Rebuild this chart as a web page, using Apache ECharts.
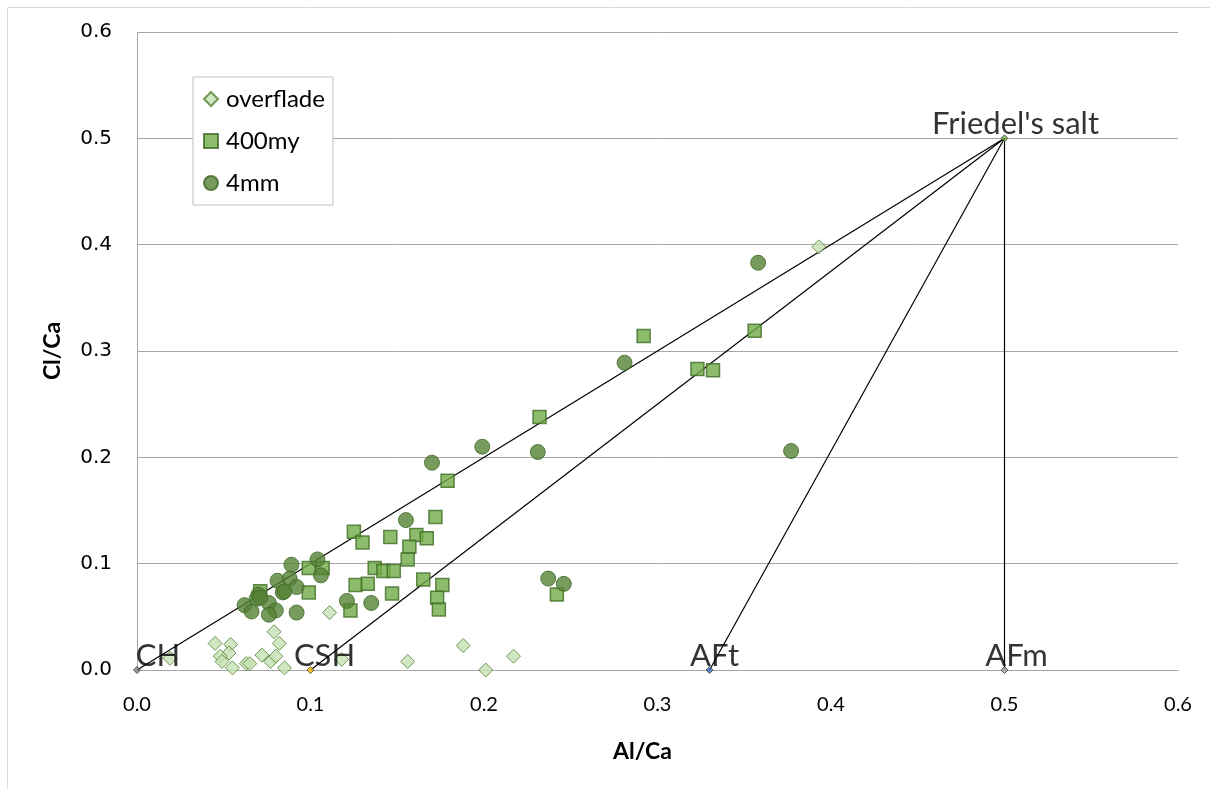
<!DOCTYPE html>
<html>
<head>
<meta charset="utf-8">
<script src="https://cdn.jsdelivr.net/npm/echarts@6/dist/echarts.min.js"></script>
<style>
  html, body { margin: 0; padding: 0; background: #fff; }
  #chart { width: 1210px; height: 789px; }
</style>
</head>
<body>
<div id="chart"></div>
<script>
// axis ticks
const xTicks = [0, 0.1, 0.2, 0.3, 0.4, 0.5, 0.6];
const yTicks = [0, 0.1, 0.2, 0.3, 0.4, 0.5, 0.6];

// overflade (diamonds)
const overX = [0.019, 0.045, 0.054, 0.053, 0.048, 0.049, 0.055, 0.063, 0.065, 0.072, 0.077,
               0.080, 0.085, 0.079, 0.082, 0.111, 0.118, 0.156, 0.188, 0.201, 0.217, 0.393];
const overY = [0.011, 0.025, 0.024, 0.016, 0.013, 0.008, 0.002, 0.006, 0.006, 0.014, 0.008,
               0.013, 0.002, 0.036, 0.025, 0.054, 0.010, 0.008, 0.023, 0.000, 0.013, 0.398];

// 400my (squares)
const sqX = [0.292, 0.323, 0.332, 0.356, 0.232, 0.179, 0.172, 0.125, 0.130, 0.146,
             0.161, 0.167, 0.157, 0.156, 0.137, 0.142, 0.148, 0.165, 0.176, 0.173,
             0.174, 0.126, 0.133, 0.147, 0.123, 0.242, 0.099, 0.107, 0.099, 0.071];
const sqY = [0.314, 0.283, 0.282, 0.319, 0.238, 0.178, 0.144, 0.130, 0.120, 0.125,
             0.127, 0.124, 0.116, 0.104, 0.096, 0.093, 0.093, 0.085, 0.080, 0.068,
             0.057, 0.080, 0.081, 0.072, 0.056, 0.071, 0.096, 0.096, 0.073, 0.074];

// 4mm (circles)
const circX = [0.358, 0.281, 0.377, 0.231, 0.199, 0.170, 0.155, 0.121, 0.135, 0.237,
               0.246, 0.089, 0.104, 0.106, 0.081, 0.088, 0.092, 0.084, 0.085, 0.070,
               0.069, 0.062, 0.066, 0.076, 0.080, 0.076, 0.092, 0.071];
const circY = [0.383, 0.289, 0.206, 0.205, 0.210, 0.195, 0.141, 0.065, 0.063, 0.086,
               0.081, 0.099, 0.104, 0.089, 0.084, 0.086, 0.078, 0.073, 0.074, 0.071,
               0.067, 0.061, 0.055, 0.063, 0.056, 0.052, 0.054, 0.068];

// reference phases
const refNames = ['CH', 'CSH', 'AFt', 'AFm', "Friedel's salt"];
const refX = [0, 0.1, 0.33, 0.5, 0.5];
const refY = [0, 0, 0, 0, 0.5];
const apexIndex = 4; // Friedel's salt

// styling for reference points (not data)
const refColors = ['#7f7f7f', '#ffc000', '#4472c4', '#a5a5a5', '#70ad47'];
const refLabelOffsets = [[21, 10], [14, 10], [5, 10], [12, 10], [11, 10]];

const zip = (xs, ys) => xs.map((x, i) => [x, ys[i]]);

const chart = echarts.init(document.getElementById('chart'));

// tie lines from each phase to Friedel's salt
const tieLines = refNames
    .map((n, i) => i)
    .filter(i => i !== apexIndex)
    .map(i => ({
        type: 'line',
        name: 'tie-' + refNames[i],
        data: [[refX[i], refY[i]], [refX[apexIndex], refY[apexIndex]]],
        symbol: 'none',
        silent: true,
        z: 1,
        lineStyle: { color: '#000', width: 1.2 },
    }));

const option = {
    backgroundColor: '#fff',
    animation: false,
    graphic: [{
        type: 'rect',
        shape: { x: 7.5, y: 7.5, width: 1230, height: 820 },
        style: { fill: 'none', stroke: '#d9d9d9', lineWidth: 1 },
        silent: true,
    }],
    grid: { left: 137, top: 32, width: 1041, height: 638 },
    legend: {
        data: ['overflade', '400my', '4mm'],
        orient: 'vertical',
        left: 193,
        top: 77,
        padding: [9, 8, 9, 10],
        itemGap: 16,
        itemWidth: 14,
        itemHeight: 14,
        backgroundColor: '#fff',
        borderColor: '#bfbfbf',
        borderWidth: 1,
        textStyle: { fontFamily: 'Lato', fontSize: 24, lineHeight: 26, color: '#000', padding: [0, 0, 0, 3] },
    },
    xAxis: {
        type: 'value',
        min: xTicks[0],
        max: xTicks[xTicks.length - 1],
        interval: 0.1,
        name: 'Al/Ca',
        nameLocation: 'middle',
        nameGap: 70,
        nameTextStyle: {
            fontFamily: 'Lato', fontWeight: 'bold', fontSize: 23, color: '#000',
            padding: [0, 30, 0, 0],
        },
        axisLine: { show: true, onZero: false, lineStyle: { color: '#a6a6a6', width: 1 } },
        axisTick: { show: false },
        splitLine: { show: false },
        axisLabel: {
            fontFamily: 'Lato', fontSize: 20, color: '#000', margin: 25,
            formatter: v => v.toFixed(1),
        },
    },
    yAxis: {
        type: 'value',
        min: yTicks[0],
        max: yTicks[yTicks.length - 1],
        interval: 0.1,
        name: 'Cl/Ca',
        nameLocation: 'middle',
        nameGap: 73,
        nameTextStyle: { fontFamily: 'Lato', fontWeight: 'bold', fontSize: 23, color: '#000' },
        axisLine: { show: true, onZero: false, lineStyle: { color: '#a6a6a6', width: 1 } },
        axisTick: { show: false },
        splitLine: { show: true, lineStyle: { color: '#a6a6a6', width: 1 } },
        axisLabel: {
            fontFamily: 'DejaVu Sans', fontSize: 20, color: '#000', margin: 25,
            formatter: v => v.toFixed(1),
        },
    },
    series: [
        ...tieLines,
        {
            type: 'scatter',
            name: 'phases',
            data: refNames.map((n, i) => ({
                value: [refX[i], refY[i]],
                name: n,
                itemStyle: { color: refColors[i] },
                label: { offset: refLabelOffsets[i] },
            })),
            symbol: 'diamond',
            symbolSize: 7,
            z: 5,
            itemStyle: { borderColor: '#404040', borderWidth: 1 },
            label: {
                show: true,
                position: 'top',
                formatter: p => p.name,
                fontFamily: 'Lato',
                fontSize: 31,
                color: '#000',
            },
        },
        {
            type: 'scatter',
            name: 'overflade',
            data: zip(overX, overY),
            symbol: 'diamond',
            symbolSize: 14,
            z: 2,
            itemStyle: { color: '#c5e0b4', borderColor: '#548235', borderWidth: 1 },
        },
        {
            type: 'scatter',
            name: '400my',
            data: zip(sqX, sqY),
            symbol: 'rect',
            symbolSize: 13,
            z: 3,
            itemStyle: { color: '#70ad47', borderColor: '#3f6b24', borderWidth: 1.5 },
        },
        {
            type: 'scatter',
            name: '4mm',
            data: zip(circX, circY),
            symbol: 'circle',
            symbolSize: 15,
            z: 4,
            itemStyle: { color: '#548235', borderColor: '#3e6626', borderWidth: 1 },
        },
    ],
};

chart.setOption(option);
</script>
</body>
</html>
